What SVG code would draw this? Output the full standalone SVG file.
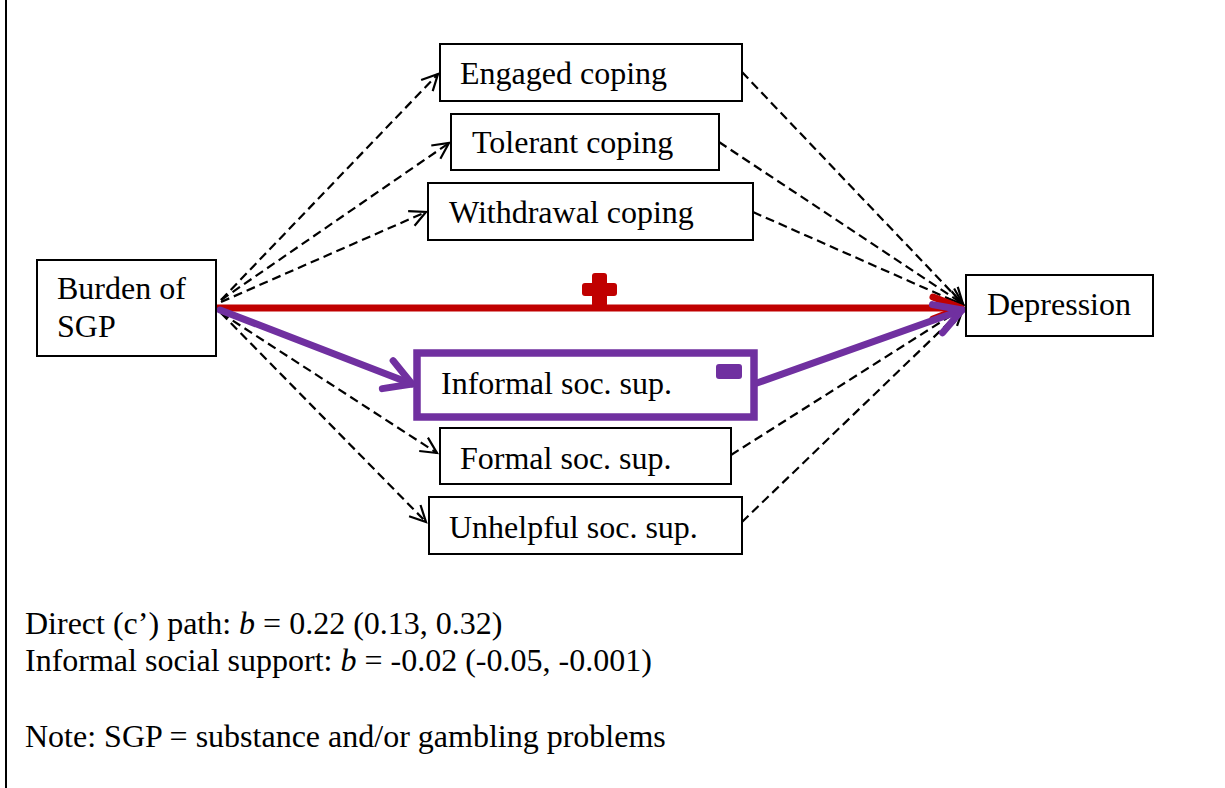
<svg xmlns="http://www.w3.org/2000/svg" width="1225" height="788" viewBox="0 0 1225 788">
  <style>
    .box { fill: #ffffff; stroke: #000000; stroke-width: 2; }
    .lbl { font-family: "Liberation Serif", "Times New Roman", serif; font-size: 32px; fill: #000000; }
    .dash { fill: none; stroke: #000000; stroke-width: 2.2; stroke-dasharray: 9 5; }
    .red { fill: none; stroke: #C00000; stroke-width: 7; }
    .purple { fill: none; stroke: #7030A0; stroke-width: 7; stroke-linecap: round; }
  </style>
  <defs>
    <marker id="open" markerUnits="userSpaceOnUse" viewBox="0 0 18 18" refX="17" refY="9" markerWidth="18" markerHeight="18" orient="auto" overflow="visible">
      <path d="M1,1 L17,9 L1,17" fill="none" stroke="#000000" stroke-width="2.2"/>
    </marker>
    <marker id="openPurple" markerUnits="userSpaceOnUse" viewBox="-34 -22 40 44" refX="0" refY="0" markerWidth="40" markerHeight="44" orient="auto" overflow="visible">
      <path d="M-26,-15 L0,0 L-26,15" fill="none" stroke="#7030A0" stroke-width="7" stroke-linecap="round" stroke-linejoin="round"/>
    </marker>
    <marker id="openRed" markerUnits="userSpaceOnUse" viewBox="-34 -22 40 44" refX="0" refY="0" markerWidth="40" markerHeight="44" orient="auto" overflow="visible">
      <path d="M-28,-11 L0,0 L-28,11" fill="none" stroke="#C00000" stroke-width="7" stroke-linecap="round" stroke-linejoin="round"/>
    </marker>
  </defs>

  <rect x="0" y="0" width="1225" height="788" fill="#ffffff"/>
  <!-- frame edge -->
  <line x1="6" y1="0" x2="6" y2="788" stroke="#000000" stroke-width="2"/>

  <g id="connectors">
    <!-- predictor to mediators -->
    <line class="dash" x1="221" y1="300" x2="438" y2="74" marker-end="url(#open)"/>
    <line class="dash" x1="221" y1="300" x2="449" y2="143" marker-end="url(#open)"/>
    <line class="dash" x1="221" y1="302" x2="426" y2="212" marker-end="url(#open)"/>
    <line class="dash" x1="221" y1="313" x2="437" y2="453" marker-end="url(#open)"/>
    <line class="dash" x1="221" y1="313" x2="426" y2="522" marker-end="url(#open)"/>
    <!-- mediators to outcome -->
    <line class="dash" x1="742" y1="72" x2="963" y2="304" marker-end="url(#open)"/>
    <line class="dash" x1="719" y1="142" x2="963" y2="304" marker-end="url(#open)"/>
    <line class="dash" x1="753" y1="212" x2="963" y2="305" marker-end="url(#open)"/>
    <line class="dash" x1="731" y1="455" x2="963" y2="308" marker-end="url(#open)"/>
    <line class="dash" x1="742" y1="522" x2="963" y2="309" marker-end="url(#open)"/>
    <!-- direct path -->
    <line class="red" x1="217" y1="308" x2="961" y2="308" marker-end="url(#openRed)"/>
    <!-- significant indirect path -->
    <line class="purple" x1="220" y1="310" x2="412" y2="384" marker-end="url(#openPurple)"/>
    <line class="purple" x1="757" y1="383" x2="962" y2="310" marker-end="url(#openPurple)"/>
    <!-- sign markers -->
    <rect x="592" y="273" width="15" height="34" rx="3" fill="#C00000"/>
    <rect x="582" y="283" width="35" height="13" rx="3" fill="#C00000"/>
    <rect x="716" y="364" width="26" height="15" rx="3" fill="#7030A0"/>
  </g>

  <g id="engaged">
    <rect class="box" x="440" y="44" width="302" height="57"/>
    <text class="lbl" x="460" y="84">Engaged coping</text>
  </g>
  <g id="tolerant">
    <rect class="box" x="451" y="114" width="268" height="56"/>
    <text class="lbl" x="472" y="153">Tolerant coping</text>
  </g>
  <g id="withdrawal">
    <rect class="box" x="428" y="183" width="325" height="57"/>
    <text class="lbl" x="449" y="223">Withdrawal coping</text>
  </g>
  <g id="burden">
    <rect class="box" x="37" y="260" width="179" height="96"/>
    <text class="lbl" x="57" y="299">Burden of</text>
    <text class="lbl" x="57" y="337">SGP</text>
  </g>
  <g id="depression">
    <rect class="box" x="966" y="275" width="187" height="61"/>
    <text class="lbl" x="987" y="315">Depression</text>
  </g>
  <g id="informal">
    <rect x="417" y="353" width="337" height="64" fill="none" stroke="#7030A0" stroke-width="7.5"/>
    <text class="lbl" x="441" y="394">Informal soc. sup.</text>
  </g>
  <g id="formal">
    <rect class="box" x="440" y="428" width="291" height="56"/>
    <text class="lbl" x="460" y="469">Formal soc. sup.</text>
  </g>
  <g id="unhelpful">
    <rect class="box" x="429" y="497" width="313" height="57"/>
    <text class="lbl" x="449" y="538">Unhelpful soc. sup.</text>
  </g>

  <g id="notes">
    <text class="lbl" x="25" y="634">Direct (c’) path: <tspan font-style="italic">b</tspan> = 0.22 (0.13, 0.32)</text>
    <text class="lbl" x="25" y="671">Informal social support: <tspan font-style="italic">b</tspan> = -0.02 (-0.05, -0.001)</text>
    <text class="lbl" x="25" y="747">Note: SGP = substance and/or gambling problems</text>
  </g>
</svg>
